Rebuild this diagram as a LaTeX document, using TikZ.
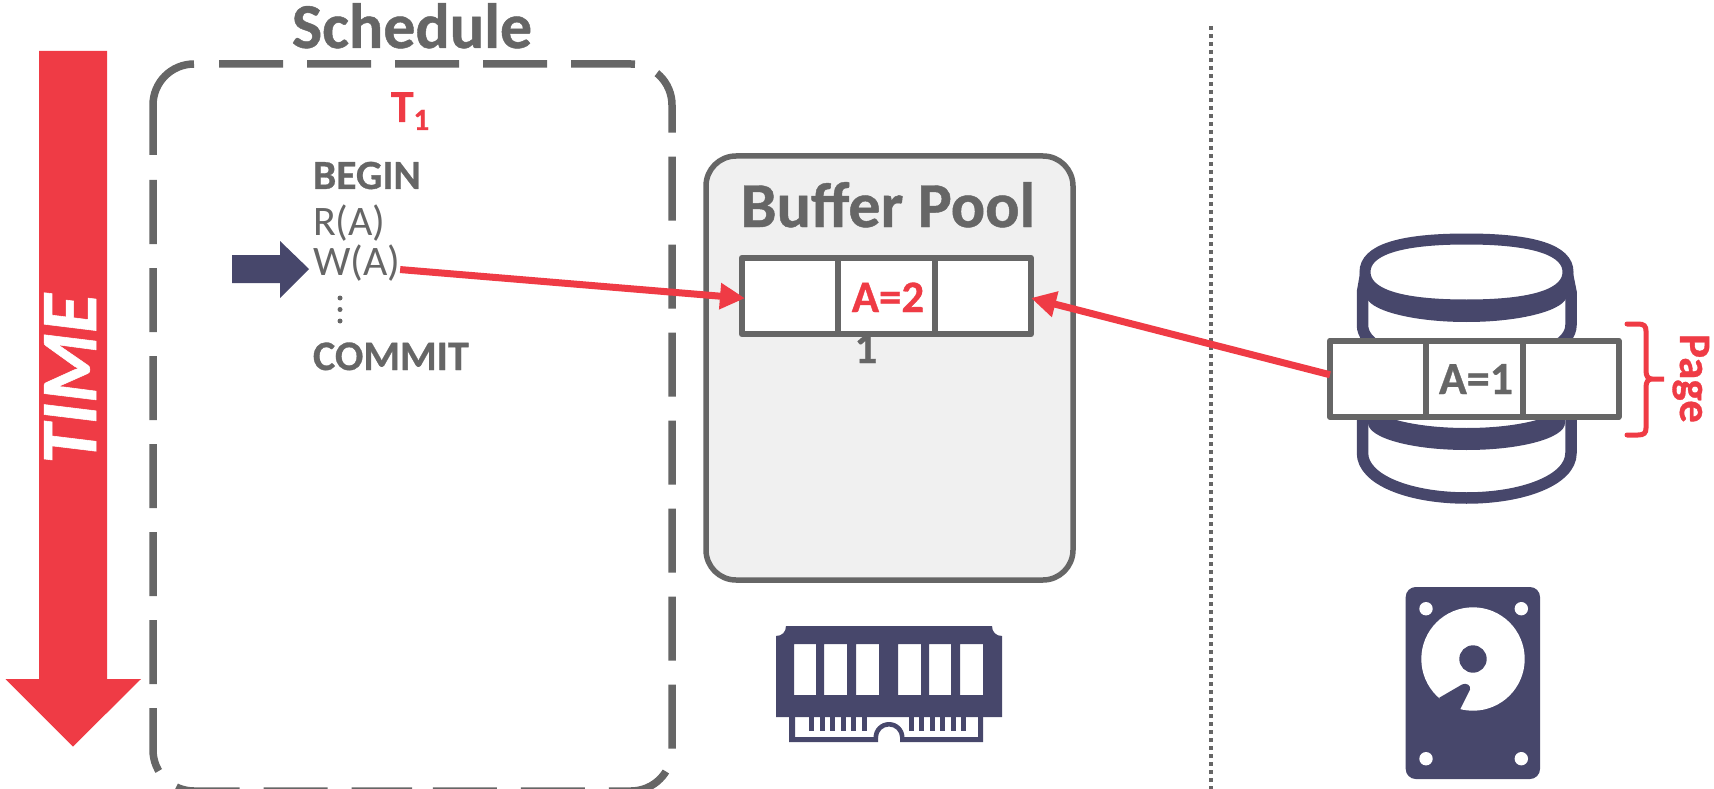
\documentclass[tikz,border=0pt]{standalone}
\usepackage{fontspec}
\setmainfont{Carlito}[BoldFeatures={FakeBold=0.7},BoldItalicFeatures={FakeBold=0.7}]
\usetikzlibrary{arrows.meta}
\definecolor{redc}{HTML}{EF3B45}
\definecolor{grayc}{HTML}{666666}
\definecolor{navyc}{HTML}{47476B}
\definecolor{poolc}{HTML}{F0F0F0}
\tikzset{
  txt/.style={inner sep=0pt,outer sep=0pt,anchor=base,text=grayc},
  txtw/.style={inner sep=0pt,outer sep=0pt,anchor=base west,text=grayc},
  cellbox/.style={draw=grayc,fill=white,line width=6pt,line join=round,inner sep=0pt,outer sep=0pt,minimum height=76.5pt},
  redarrow/.style={draw=redc,line width=7pt,-{Triangle[length=25pt,width=25pt]},shorten >=-3pt},
  schedline/.style={grayc,line width=7.5pt,dash pattern=on 64pt off 24pt},
}
\newcommand{\fs}[1]{\fontsize{#1}{#1}\selectfont}
\begin{document}
\begin{tikzpicture}[x=1pt,y=-1pt]
\useasboundingbox (0,0) rectangle (1714,789);
% time arrow
\fill[redc] (39,51) -- (107,51) -- (107,679) -- (141,679) -- (73,746.5) -- (5.5,679) -- (39,679) -- cycle;
\node[txt,text=white,rotate=90] (timelabel) at (96,379) {\fs{80}\bfseries\itshape TIME};
% schedule box
\draw[schedline] (219,64) -- (631,64) arc[start angle=-90,end angle=0,radius=41] -- (672,750) arc[start angle=0,end angle=90,radius=41] -- (412,791);
\draw[schedline] (153,180) -- (153,750) arc[start angle=180,end angle=90,radius=41] -- (412,791);
\draw[grayc,line width=7.5pt] (153,155) -- (153,105) arc[start angle=180,end angle=270,radius=41];
\node[txt] (schedule) at (412,48) {\fs{64}\bfseries Schedule};
\node[txt,text=redc] (tname) at (410,122) {\fs{46}\bfseries T\raisebox{-8pt}{\fs{31}1}};
\node[txtw] (begin) at (313,189) {\fs{41.5}\bfseries BEGIN};
\node[txtw] (ra) at (313,235) {\fs{42}R(A)};
\node[txtw] (wa) at (313,275) {\fs{42}W(A)};
\fill[grayc] (340,298) circle (2.5) (340,309.5) circle (2.5) (340,321) circle (2.5);
\node[txtw] (commit) at (313,370) {\fs{42}\bfseries COMMIT};
% cursor arrow
\fill[navyc] (232,255) -- (280,255) -- (280,241) -- (309,269) -- (280,298) -- (280,283) -- (232,283) -- cycle;
% buffer pool
\draw[grayc,fill=poolc,line width=5.5pt,rounded corners=30pt] (706,156) rectangle (1073,580);
\node[txt] (bplabel) at (888,227) {\fs{64}\bfseries Buffer Pool};
\node[txt] (hiddenone) at (866,363) {\fs{45}\bfseries 1};
\node[cellbox,minimum width=96pt] (c1) at (790,296) {};
\node[cellbox,minimum width=97pt] (c2) at (886.5,296) {};
\node[cellbox,minimum width=96pt] (c3) at (983,296) {};
\node[txt,text=redc] (a2) at (888,312) {\fs{45}\bfseries A=2};
% dotted divider
\coordinate (dtop) at (1211,26);
\coordinate (dbot) at (1211,789);
\draw[grayc,line width=4.2pt,dash pattern=on 4pt off 4pt] (dtop) -- (dbot);
% database cylinder
\draw[navyc,line width=11.5pt] (1366,272) -- (1362.5,292) -- (1362.5,325) .. controls (1362.5,335) and (1370,342) .. (1378,347);
\draw[navyc,line width=11.5pt] (1567,272) -- (1571,292) -- (1571,325) .. controls (1571,335) and (1563,342) .. (1555,347);
\draw[navyc,line width=11.5pt] (1362.5,415) -- (1362.5,453) .. controls (1362.5,480) and (1410,498) .. (1466.5,498) .. controls (1523,498) and (1571,480) .. (1571,453) -- (1571,415);
\fill[navyc] (1368,401) .. controls (1368,416) and (1412,428) .. (1466.5,428) .. controls (1521,428) and (1565,416) .. (1565,401) -- (1565,423) .. controls (1565,438) and (1521,450) .. (1466.5,450) .. controls (1412,450) and (1368,438) .. (1368,423) -- cycle;
\fill[navyc] (1366,272) -- (1366,295) .. controls (1366,310) and (1412,322) .. (1466.5,322) .. controls (1521,322) and (1567,310) .. (1567,295) -- (1567,272) -- cycle;
\draw[navyc,fill=white,line width=11pt] (1365,272) .. controls (1365,250) and (1399.5,239) .. (1466.5,239) .. controls (1533.5,239) and (1568,250) .. (1568,272) .. controls (1568,294) and (1533.5,305) .. (1466.5,305) .. controls (1399.5,305) and (1365,294) .. cycle;
% disk page
\node[cellbox,minimum width=96pt] (p1) at (1378,378.75) {};
\node[cellbox,minimum width=96.7pt] (p2) at (1474.35,378.75) {};
\node[cellbox,minimum width=95.8pt] (p3) at (1570.6,378.75) {};
\node[txt] (a1) at (1476,394) {\fs{46}\bfseries A=1};
% brace
\coordinate (bt) at (1627,324);
\coordinate (bb) at (1627,435);
\coordinate (bm) at (1664,379);
\draw[redc,line width=5pt,line cap=round] (bt) -- (1638,324) .. controls (1644,324) and (1646,326) .. (1646,331) -- (1646,371) .. controls (1646,376) and (1648,379) .. (1652,379) -- (bm) -- (1652,379) .. controls (1648,379) and (1646,382) .. (1646,387) -- (1646,428) .. controls (1646,433) and (1644,435) .. (1638,435) -- (bb);
\node[txt,text=redc,rotate=-90] (pagelabel) at (1680,378.5) {\fs{45}\bfseries Page};
% connectors
\draw[redarrow] ([yshift=-7pt]wa.east) -- ([yshift=-2pt]c1.west);
\draw[redarrow,shorten >=0pt] ([yshift=4pt]p1.west) -- ([yshift=-2pt]c3.east);
% RAM
\fill[navyc,even odd rule]
  (776,636) .. controls (782,636) and (786,632) .. (786,626) -- (992,626) .. controls (992,632) and (996,636) .. (1002,636) -- (1002,717) -- (776,717) -- cycle
  (794,644) rectangle (816,695) (824,644) rectangle (847,695) (856,644) rectangle (879,695)
  (898,644) rectangle (921,695) (929,644) rectangle (951,695) (960,644) rectangle (983,695);
\fill[navyc] (789,717) rectangle (795,742) (978,717) rectangle (983,742)
  (789,737) rectangle (878,742) (900,737) rectangle (983,742);
\fill[navyc] (873.5,737.5) arc[start angle=180,end angle=360,radius=15.5] -- (900,737.5) arc[start angle=360,end angle=180,radius=11] -- cycle;
\foreach \tx in {809.3,819.7,830.3,840.7,851.3,861.7,908.7,919.3,929.7,940,950.7,961}
  \fill[navyc] (\tx,717) rectangle (\tx+5,731);
% HDD
\fill[navyc,rounded corners=10pt] (1405.7,587) rectangle (1540,779);
\fill[white] (1426,608.7) circle (6.7) (1521.3,608.7) circle (6.7) (1426,758.7) circle (6.7) (1521.3,758.7) circle (6.7);
\fill[white] (1473,659) circle (51.7);
\fill[navyc] (1473,659) circle (13.7);
\fill[navyc] (1439.3,697.7) -- (1462,684.5) .. controls (1466,682.5) and (1471,685) .. (1470,689.5) -- (1460,709.5) -- (1440,716) -- cycle;
\end{tikzpicture}
\end{document}
